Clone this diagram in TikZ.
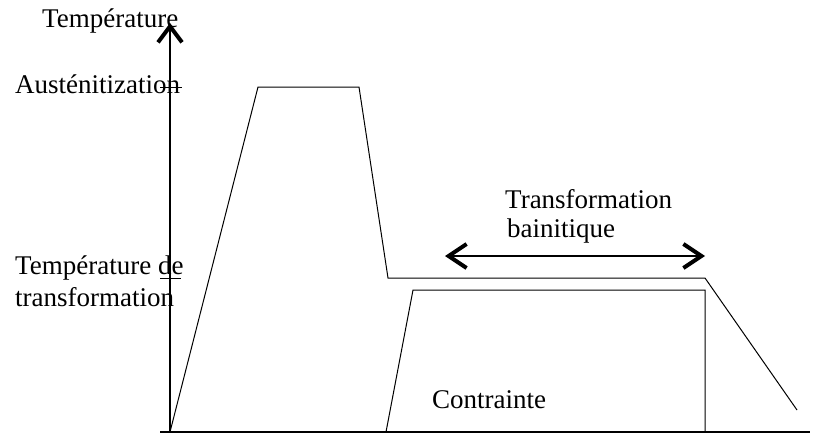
\documentclass[tikz,border=0pt]{standalone}
\usepackage{fontspec}
\setmainfont{Liberation Serif}
\usetikzlibrary{arrows.meta}
\begin{document}
\begin{tikzpicture}[x=1pt,y=-1pt,
  thin line/.style={line width=1pt},
  axis/.style={line width=2.8pt},
  lbl/.style={font=\fontsize{27}{31}\selectfont, inner sep=0pt, anchor=base west},
  dbarb/.tip={Straight Barb[length=18pt,width=24pt,line width=4pt]}]
\useasboundingbox (0,0) rectangle (813,434);
% axes
\coordinate (o) at (170,432);
\coordinate (ytop) at (170,23);
\coordinate (xend) at (810,432);
\draw[axis] (160,432) -- (xend);
\draw[axis,-{Straight Barb[length=16pt,width=24pt,line width=4pt]}] (o) -- (ytop);
% ticks
\coordinate (t1a) at (160,87); \coordinate (t1b) at (182,87);
\coordinate (t2a) at (160,278); \coordinate (t2b) at (181,278);
\draw[thin line] (t1a) -- (t1b);
\draw[thin line] (t2a) -- (t2b);
% temperature curve
\coordinate (a1) at (258,87);
\coordinate (a2) at (359,87);
\coordinate (a3) at (388,278);
\coordinate (a4) at (705,278);
\coordinate (a5) at (797,410);
\draw[thin line] (o) -- (a1) -- (a2) -- (a3) -- (a4) -- (a5);
% contrainte curve
\coordinate (c0) at (386,432);
\coordinate (c1) at (413,290);
\coordinate (c2) at (705,290);
\coordinate (c3) at (705,432);
\draw[thin line] (c0) -- (c1) -- (c2) -- (c3);
% double arrow
\coordinate (dl) at (445,256);
\coordinate (dr) at (705,256);
\draw[line width=2pt,dbarb-dbarb] (dl) -- (dr);
% labels
\node[lbl] (ttemp) at (42,27) {Température};
\node[lbl] (taus) at (15,93) {Austénitization};
\node[lbl] (ttr1) at (15,274) {Température de};
\node[lbl] (ttr2) at (15,306) {transformation};
\node[lbl] (tb1) at (505,208) {Transformation};
\node[lbl] (tb2) at (507,237) {bainitique};
\node[lbl] (tc) at (432,408) {Contrainte};
\end{tikzpicture}
\end{document}
